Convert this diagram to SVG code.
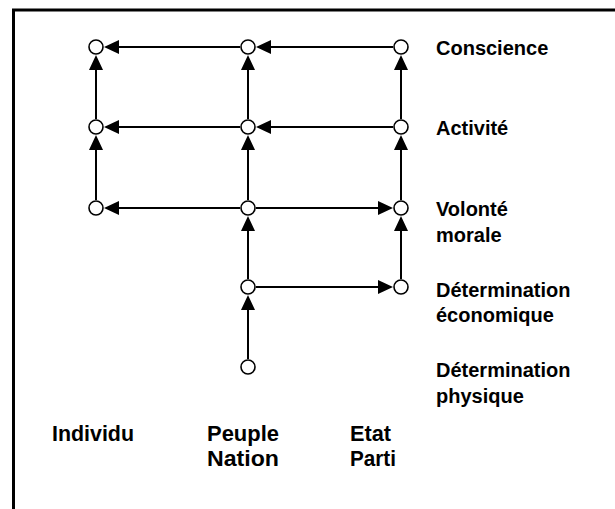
<svg xmlns="http://www.w3.org/2000/svg" width="615" height="509" viewBox="0 0 615 509">
  <style>
    .frame { stroke: #000; stroke-width: 3; fill: none; }
    .edge { stroke: #000; stroke-width: 2; fill: none; marker-end: url(#arrow); }
    .node { fill: #fff; stroke: #000; stroke-width: 1.6; }
    .lbl { font-family: "Liberation Sans", Arial, sans-serif; font-weight: bold; font-size: 20px; fill: #000; }
    .col { font-family: "Liberation Sans", Arial, sans-serif; font-weight: bold; font-size: 22px; fill: #000; }
  </style>
  <defs>
    <marker id="arrow" viewBox="0 0 15 14" refX="13" refY="7" markerWidth="15" markerHeight="14" markerUnits="userSpaceOnUse" orient="auto">
      <path d="M0,0 L15,7 L0,14 Z" fill="#000"/>
    </marker>
  </defs>

  <rect width="615" height="509" fill="#fff"/>

  <!-- open frame: top and left edges only -->
  <path class="frame" d="M615,10 L13.5,10 L13.5,509"/>

  <g id="connectors">
    <!-- Conscience row -->
    <line class="edge" x1="393" y1="47" x2="258" y2="47"/>
    <line class="edge" x1="240" y1="47" x2="106" y2="47"/>
    <!-- Activité row -->
    <line class="edge" x1="393" y1="127" x2="258" y2="127"/>
    <line class="edge" x1="240" y1="127" x2="106" y2="127"/>
    <!-- Volonté morale row -->
    <line class="edge" x1="240" y1="208" x2="106" y2="208"/>
    <line class="edge" x1="256" y1="208" x2="391" y2="208"/>
    <!-- Détermination économique row -->
    <line class="edge" x1="256" y1="287" x2="391" y2="287"/>
    <!-- Individu column -->
    <line class="edge" x1="96" y1="119" x2="96" y2="57"/>
    <line class="edge" x1="96" y1="200" x2="96" y2="137"/>
    <!-- Peuple / Nation column -->
    <line class="edge" x1="248" y1="119" x2="248" y2="57"/>
    <line class="edge" x1="248" y1="200" x2="248" y2="137"/>
    <line class="edge" x1="248" y1="279" x2="248" y2="218"/>
    <line class="edge" x1="248" y1="359" x2="248" y2="297"/>
    <!-- Etat / Parti column -->
    <line class="edge" x1="401" y1="119" x2="401" y2="57"/>
    <line class="edge" x1="401" y1="200" x2="401" y2="137"/>
    <line class="edge" x1="401" y1="279" x2="401" y2="218"/>
  </g>

  <g id="n-ind-conscience"><circle class="node" cx="96" cy="47" r="7"/></g>
  <g id="n-ind-activite"><circle class="node" cx="96" cy="127" r="7"/></g>
  <g id="n-ind-volonte"><circle class="node" cx="96" cy="208" r="7"/></g>
  <g id="n-peu-conscience"><circle class="node" cx="248" cy="47" r="7"/></g>
  <g id="n-peu-activite"><circle class="node" cx="248" cy="127" r="7"/></g>
  <g id="n-peu-volonte"><circle class="node" cx="248" cy="208" r="7"/></g>
  <g id="n-peu-economique"><circle class="node" cx="248" cy="287" r="7"/></g>
  <g id="n-peu-physique"><circle class="node" cx="248" cy="367" r="7"/></g>
  <g id="n-eta-conscience"><circle class="node" cx="401" cy="47" r="7"/></g>
  <g id="n-eta-activite"><circle class="node" cx="401" cy="127" r="7"/></g>
  <g id="n-eta-volonte"><circle class="node" cx="401" cy="208" r="7"/></g>
  <g id="n-eta-economique"><circle class="node" cx="401" cy="287" r="7"/></g>

  <!-- level labels -->
  <g id="levels">
    <text class="lbl" x="436" y="55">Conscience</text>
    <text class="lbl" x="436" y="135">Activité</text>
    <text class="lbl" x="436" y="216">Volonté</text>
    <text class="lbl" x="436" y="242">morale</text>
    <text class="lbl" x="436" y="297">Détermination</text>
    <text class="lbl" x="436" y="322">économique</text>
    <text class="lbl" x="436" y="377">Détermination</text>
    <text class="lbl" x="436" y="403">physique</text>
  </g>

  <!-- column labels -->
  <g id="columns">
    <text class="col" x="52" y="441" textLength="82" lengthAdjust="spacingAndGlyphs">Individu</text>
    <text class="col" x="207" y="441" textLength="72" lengthAdjust="spacingAndGlyphs">Peuple</text>
    <text class="col" x="207" y="466" textLength="72" lengthAdjust="spacingAndGlyphs">Nation</text>
    <text class="col" x="350" y="441" textLength="41" lengthAdjust="spacingAndGlyphs">Etat</text>
    <text class="col" x="350" y="466" textLength="46" lengthAdjust="spacingAndGlyphs">Parti</text>
  </g>
</svg>
